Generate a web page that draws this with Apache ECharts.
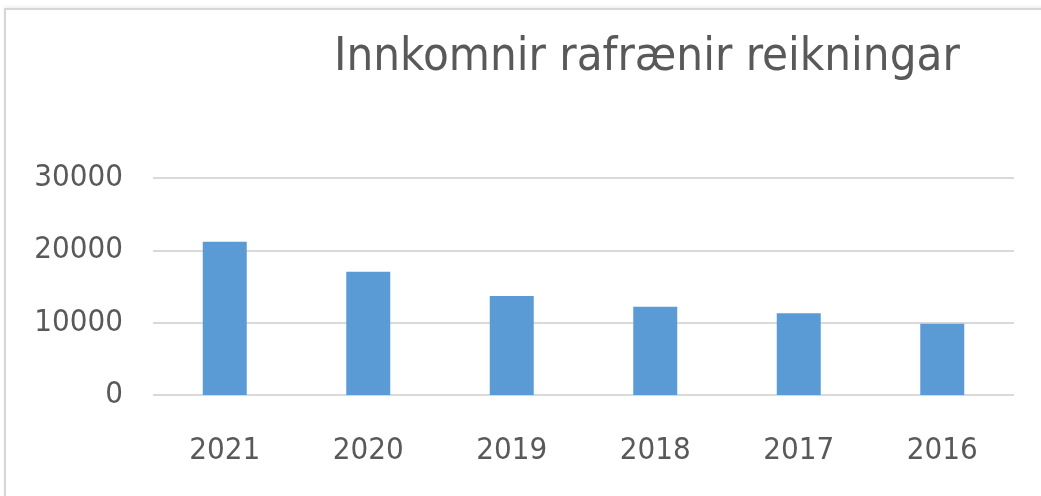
<!DOCTYPE html>
<html>
<head>
<meta charset="utf-8">
<script src="https://cdn.jsdelivr.net/npm/echarts@6/dist/echarts.min.js"></script>
<style>
  html, body { margin: 0; padding: 0; background: #fff; }
  #frame { position: absolute; left: 4px; top: 8px; width: 1100px; height: 600px;
           border-left: 2px solid #d6d6d6; border-top: 2px solid #d6d6d6;
           box-shadow: 0 -2px 3px rgba(0,0,0,0.06); }
  #chart { position: absolute; left: 0; top: 0; width: 1041px; height: 496px; }
</style>
</head>
<body>
<div id="frame"></div>
<div id="chart"></div>
<script>
const titleText = 'Innkomnir rafrænir reikningar';
const categories = ['2021', '2020', '2019', '2018', '2017', '2016'];
const values = [21200, 17050, 13700, 12200, 11300, 9860];
const yTicks = [0, 10000, 20000, 30000];

const FONT = '"DejaVu Sans Condensed", "Liberation Sans Narrow", "Liberation Sans", sans-serif';
const chart = echarts.init(document.getElementById('chart'), null, { renderer: 'canvas' });
chart.setOption({
  backgroundColor: 'transparent',
  animation: false,
  title: {
    text: titleText,
    left: 329,
    top: 29,
    textStyle: { fontFamily: FONT, fontSize: 47, fontWeight: 'normal', color: '#595959' }
  },
  grid: { left: 153, right: 27, top: 178, bottom: 101, containLabel: false },
  xAxis: {
    type: 'category',
    data: categories,
    axisLine: { show: false },
    axisTick: { show: false },
    axisLabel: { fontFamily: FONT, fontSize: 31, color: '#595959', margin: 40 }
  },
  yAxis: {
    type: 'value',
    min: yTicks[0],
    max: yTicks[yTicks.length - 1],
    interval: 10000,
    axisLine: { show: false },
    axisTick: { show: false },
    splitLine: { lineStyle: { color: '#d9d9d9', width: 2 } },
    axisLabel: { fontFamily: FONT, fontSize: 31, color: '#595959', margin: 30,
                 formatter: function (v) { return String(v); } }
  },
  series: [{
    type: 'bar',
    data: values,
    barWidth: 44,
    itemStyle: { color: '#5b9bd5' }
  }]
});
</script>
</body>
</html>
